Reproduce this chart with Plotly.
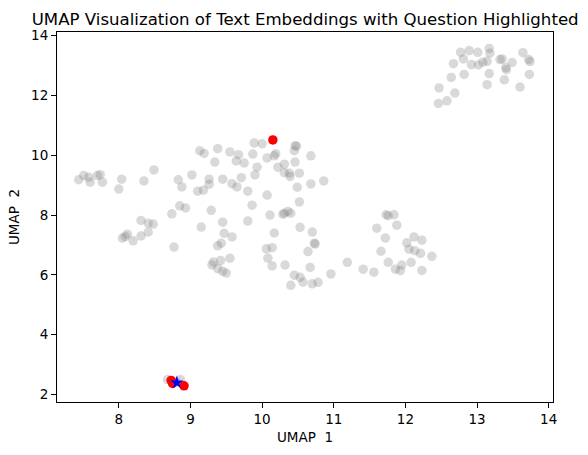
import plotly.graph_objects as go

# Gray background embeddings (UMAP 1, UMAP 2)
gray_x = [7.44, 7.51, 7.58, 7.60, 7.70, 7.74, 7.77, 8.00, 8.04, 8.35, 8.49,
          8.83, 8.88, 9.02, 9.10, 9.18, 9.26, 9.26,
          9.13, 9.19, 9.38, 9.34, 9.45, 9.55, 9.67, 9.64, 9.75, 9.58, 9.65, 9.71, 9.80,
          9.87, 9.89, 10.00, 9.93, 9.90, 10.07, 10.17, 10.19, 10.22, 10.31, 10.31, 10.38,
          10.39, 10.46, 10.48, 10.45, 10.46, 10.52, 10.49, 10.52, 10.07, 9.86, 9.29, 8.85,
          8.93, 8.74, 10.11, 10.31, 10.36, 10.40, 10.29, 10.68, 10.68, 10.86,
          8.31, 8.41, 8.48, 9.15, 9.45, 9.80, 10.53, 8.05, 8.12, 8.09, 8.20, 8.31, 8.41,
          8.77, 9.47, 9.58, 9.43, 9.38, 9.55, 9.42, 9.32, 9.30, 9.38, 9.45, 9.50, 10.17,
          10.06, 10.14, 10.08, 10.14, 10.32, 10.45, 10.53, 10.40, 10.57, 10.64,
          10.70, 10.73, 10.74, 10.67, 10.70, 10.78, 10.96, 11.19, 11.41, 11.56, 11.60,
          11.88, 11.72, 11.66, 11.76, 11.86, 11.93, 11.95, 12.08, 12.23, 12.02, 12.05,
          12.12, 12.13, 12.23, 12.21, 12.37, 11.73, 11.76, 11.84,
          12.77, 12.89, 13.01, 13.17, 13.18, 12.81, 12.67, 12.92, 13.02, 13.08, 13.14,
          13.32, 13.35, 13.40, 13.41, 13.49, 13.64, 13.72, 13.74, 13.73, 13.60, 13.38,
          13.17, 13.14, 12.82, 12.64, 12.47, 12.69, 12.58, 12.46,
          8.68, 8.86, 8.80]
gray_y = [9.18, 9.32, 9.26, 9.10, 9.32, 9.35, 9.10, 8.87, 9.20, 9.14, 9.51,
          9.18, 8.94, 9.34, 8.80, 8.83, 9.20, 9.03,
          10.15, 10.06, 10.22, 9.77, 9.20, 10.11, 10.02, 9.81, 9.74, 9.05, 8.94, 9.25, 8.80,
          10.04, 10.41, 10.38, 9.60, 9.34, 9.91, 9.98, 10.05, 9.60, 9.70, 9.42, 9.40,
          9.29, 10.32, 10.30, 10.15, 9.77, 9.40, 8.93, 8.44, 8.67, 8.33, 8.16, 8.31,
          8.24, 8.04, 8.00, 8.06, 8.12, 8.06, 8.03, 9.98, 9.04, 9.14,
          7.82, 7.73, 7.70, 7.60, 7.76, 7.80, 7.59, 7.23, 7.36, 7.28, 7.14, 7.30, 7.43,
          6.93, 7.39, 7.27, 7.06, 6.97, 6.56, 6.48, 6.43, 6.33, 6.21, 6.12, 6.06, 7.40,
          6.87, 6.91, 6.56, 6.30, 6.33, 5.99, 5.92, 5.65, 5.76, 6.78,
          7.43, 7.06, 7.03, 6.25, 5.70, 5.75, 6.03, 6.42, 6.19, 6.09, 7.56,
          7.66, 7.23, 6.79, 6.42, 6.19, 6.14, 6.33, 6.42, 6.15, 7.07, 6.86,
          7.27, 6.81, 7.16, 6.72, 6.62, 8.01, 7.98, 8.01,
          13.44, 13.50, 13.44, 13.57, 13.41, 13.22, 13.06, 13.03, 13.02, 13.11, 13.14,
          13.20, 13.22, 12.93, 12.86, 13.10, 13.43, 13.20, 13.13, 12.70, 12.28, 12.52,
          12.73, 12.36, 12.70, 12.60, 12.25, 12.08, 11.82, 11.73,
          2.50, 2.50, 2.42]

# Highlighted nearest neighbours (red)
red_x = [8.73, 8.75, 8.91, 10.15]
red_y = [2.47, 2.37, 2.29, 10.51]

# Question embedding (blue star)
q_x = [8.81]
q_y = [2.40]

fig = go.Figure()
fig.add_trace(go.Scatter(x=gray_x, y=gray_y, mode="markers",
                         marker=dict(color="rgba(128,128,128,0.3)", size=9.5, line=dict(width=0)),
                         showlegend=False))
fig.add_trace(go.Scatter(x=red_x, y=red_y, mode="markers",
                         marker=dict(color="red", size=9.5, line=dict(width=0)),
                         showlegend=False))
fig.add_trace(go.Scatter(x=q_x, y=q_y, mode="markers",
                         marker=dict(color="blue", size=10, symbol="star", line=dict(width=0)),
                         showlegend=False))

axis_common = dict(showgrid=False, zeroline=False, showline=True, linecolor="black",
                   linewidth=1, mirror=True, ticks="outside", ticklen=5, tickwidth=1,
                   tickcolor="black", automargin=False,
                   tickfont=dict(family="DejaVu Sans", size=13.5, color="black"))

fig.update_layout(
    width=588, height=455,
    margin=dict(l=57, r=35, t=32, b=53),
    paper_bgcolor="white", plot_bgcolor="white",
    font=dict(family="DejaVu Sans", color="black"),
    title=dict(text="UMAP Visualization of Text Embeddings with Question Highlighted",
               x=0.519, xanchor="center", y=1 - 19 / 455, yanchor="middle",
               yref="container", font=dict(family="DejaVu Sans", size=16.6, color="black")),
    xaxis=dict(range=[7.137, 14.06], tickvals=[8, 9, 10, 11, 12, 13, 14],
               title=dict(text="UMAP\u00a0 1", standoff=6,
                          font=dict(family="DejaVu Sans", size=13.5, color="black")),
               **axis_common),
    yaxis=dict(range=[1.75, 14.12], tickvals=[2, 4, 6, 8, 10, 12, 14],
               title=dict(text="UMAP\u00a0 2", standoff=8,
                          font=dict(family="DejaVu Sans", size=13.5, color="black")),
               **axis_common),
)

fig.write_html("out.html", config={"displayModeBar": False},
               post_script="document.body.style.margin='0';")
